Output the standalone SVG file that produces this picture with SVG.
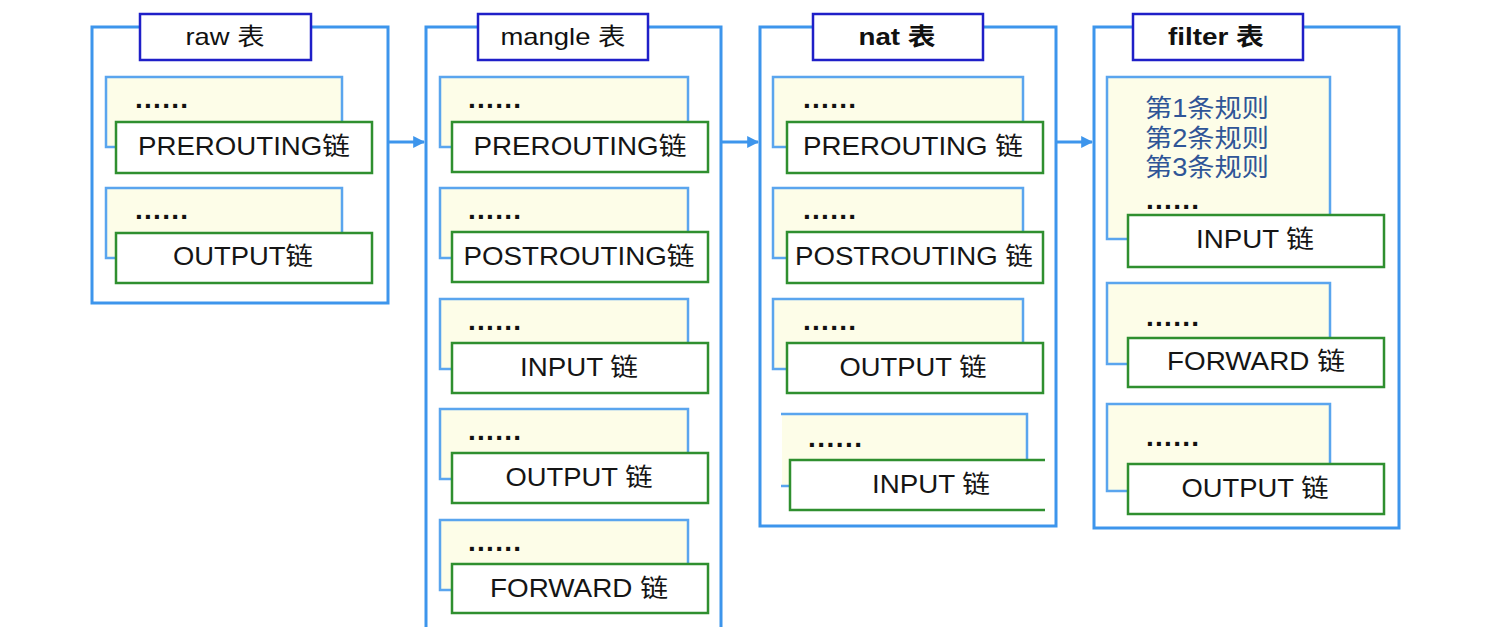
<svg xmlns="http://www.w3.org/2000/svg" width="1506" height="637" viewBox="0 0 1506 637">
<defs>
<marker id="arr" viewBox="0 0 10 10" refX="9" refY="5" markerWidth="4" markerHeight="4" orient="auto" markerUnits="strokeWidth">
<path d="M0,0 L10,5 L0,10 z" fill="#3d95ec"/>
</marker>
<style>
.outer{fill:none;stroke:#3d95ec;stroke-width:3}
.title{fill:#fff;stroke:#1f1fc8;stroke-width:2.5}
.rule{fill:#fdfde8;stroke:#5aa5ee;stroke-width:2.5}
.rulefill{fill:#fdfde8;stroke:none}
.ruleedge{fill:none;stroke:#5aa5ee;stroke-width:2.5}
.chain{fill:#fff;stroke:#2f8f2f;stroke-width:2.5}
.chainedge{fill:none;stroke:#2f8f2f;stroke-width:2.5}
.ttl{font-family:"Liberation Sans","Noto Sans CJK SC",sans-serif;font-size:24px;fill:#111;text-anchor:middle}
.b{font-weight:bold}
.lbl{font-family:"Liberation Sans","Noto Sans CJK SC",sans-serif;font-size:25px;fill:#151515;text-anchor:middle}
.dots{font-family:"Liberation Sans",sans-serif;font-size:28px;font-weight:bold;fill:#111}
.rt{font-family:"Liberation Sans","Noto Sans CJK SC",sans-serif;font-size:25px;fill:#2f5597}
.conn{fill:none;stroke:#3d95ec;stroke-width:3;marker-end:url(#arr)}
</style>
</defs>
<rect width="1506" height="637" fill="#fff"/>

<g id="raw">
<rect class="outer" x="92" y="27" width="296" height="276"/>
<rect class="title" x="140" y="14" width="171" height="46"/>
<text class="ttl" x="225" y="45" textLength="79" lengthAdjust="spacingAndGlyphs">raw 表</text>
<g id="raw-prerouting">
<rect class="rule" x="106" y="77" width="236" height="70"/>
<text class="dots" x="135" y="108" textLength="53" lengthAdjust="spacing">......</text>
<rect class="chain" x="116" y="122" width="256" height="51"/>
<text class="lbl" x="244" y="155" textLength="212" lengthAdjust="spacingAndGlyphs">PREROUTING链</text>
</g>
<g id="raw-output">
<rect class="rule" x="106" y="188" width="236" height="70"/>
<text class="dots" x="135" y="219" textLength="53" lengthAdjust="spacing">......</text>
<rect class="chain" x="116" y="233" width="256" height="50"/>
<text class="lbl" x="243" y="265" textLength="140" lengthAdjust="spacingAndGlyphs">OUTPUT链</text>
</g>
</g>

<g id="mangle">
<path class="outer" d="M426,627 V27 H721 V627"/>
<rect class="title" x="478" y="14" width="170" height="46"/>
<text class="ttl" x="563" y="45" textLength="125" lengthAdjust="spacingAndGlyphs">mangle 表</text>
<g id="mangle-prerouting">
<rect class="rule" x="440" y="77" width="248" height="70"/>
<text class="dots" x="468" y="108" textLength="53" lengthAdjust="spacing">......</text>
<rect class="chain" x="452" y="122" width="256" height="50"/>
<text class="lbl" x="580" y="155" textLength="213" lengthAdjust="spacingAndGlyphs">PREROUTING链</text>
</g>
<g id="mangle-postrouting">
<rect class="rule" x="440" y="188" width="248" height="70"/>
<text class="dots" x="468" y="219" textLength="53" lengthAdjust="spacing">......</text>
<rect class="chain" x="452" y="232" width="256" height="50"/>
<text class="lbl" x="579" y="265" textLength="231" lengthAdjust="spacingAndGlyphs">POSTROUTING链</text>
</g>
<g id="mangle-input">
<rect class="rule" x="440" y="299" width="248" height="70"/>
<text class="dots" x="468" y="330" textLength="53" lengthAdjust="spacing">......</text>
<rect class="chain" x="452" y="343" width="256" height="50"/>
<text class="lbl" x="579" y="376" textLength="118" lengthAdjust="spacingAndGlyphs">INPUT 链</text>
</g>
<g id="mangle-output">
<rect class="rule" x="440" y="409" width="248" height="70"/>
<text class="dots" x="468" y="440" textLength="53" lengthAdjust="spacing">......</text>
<rect class="chain" x="452" y="453" width="256" height="50"/>
<text class="lbl" x="579" y="486" textLength="147" lengthAdjust="spacingAndGlyphs">OUTPUT 链</text>
</g>
<g id="mangle-forward">
<rect class="rule" x="440" y="520" width="248" height="70"/>
<text class="dots" x="468" y="551" textLength="53" lengthAdjust="spacing">......</text>
<rect class="chain" x="452" y="564" width="256" height="49"/>
<text class="lbl" x="579" y="597" textLength="178" lengthAdjust="spacingAndGlyphs">FORWARD 链</text>
</g>
</g>

<g id="nat">
<rect class="outer" x="760" y="27" width="296" height="499"/>
<rect class="title" x="813" y="14" width="170" height="46"/>
<text class="ttl b" x="897" y="45" textLength="77" lengthAdjust="spacingAndGlyphs">nat 表</text>
<g id="nat-prerouting">
<rect class="rule" x="773" y="77" width="250" height="70"/>
<text class="dots" x="803" y="108" textLength="53" lengthAdjust="spacing">......</text>
<rect class="chain" x="787" y="122" width="256" height="51"/>
<text class="lbl" x="913" y="155" textLength="220" lengthAdjust="spacingAndGlyphs">PREROUTING 链</text>
</g>
<g id="nat-postrouting">
<rect class="rule" x="773" y="188" width="250" height="70"/>
<text class="dots" x="803" y="219" textLength="53" lengthAdjust="spacing">......</text>
<rect class="chain" x="787" y="232" width="256" height="51"/>
<text class="lbl" x="914" y="265" textLength="238" lengthAdjust="spacingAndGlyphs">POSTROUTING 链</text>
</g>
<g id="nat-output">
<rect class="rule" x="773" y="299" width="250" height="70"/>
<text class="dots" x="803" y="330" textLength="53" lengthAdjust="spacing">......</text>
<rect class="chain" x="787" y="343" width="256" height="50"/>
<text class="lbl" x="913" y="376" textLength="147" lengthAdjust="spacingAndGlyphs">OUTPUT 链</text>
</g>
<g id="nat-input">
<rect class="rulefill" x="782" y="414" width="245" height="72"/>
<path class="ruleedge" d="M781,414 H1027 V460 M781,486 H790"/>
<text class="dots" x="808" y="447" textLength="54" lengthAdjust="spacing">......</text>
<rect x="790" y="460" width="255" height="50" fill="#fff"/>
<path class="chainedge" d="M1045,460 H790 V510 H1045"/>
<text class="lbl" x="931" y="493" textLength="118" lengthAdjust="spacingAndGlyphs">INPUT 链</text>
</g>
</g>

<g id="filter">
<rect class="outer" x="1094" y="27" width="305" height="501"/>
<rect class="title" x="1133" y="14" width="170" height="46"/>
<text class="ttl b" x="1216" y="45" textLength="96" lengthAdjust="spacingAndGlyphs">filter 表</text>
<g id="filter-input">
<rect class="rule" x="1107" y="77" width="223" height="162"/>
<text class="rt" x="1145" y="117" textLength="124" lengthAdjust="spacingAndGlyphs">第1条规则</text>
<text class="rt" x="1145" y="147" textLength="124" lengthAdjust="spacingAndGlyphs">第2条规则</text>
<text class="rt" x="1145" y="176" textLength="124" lengthAdjust="spacingAndGlyphs">第3条规则</text>
<text class="dots" x="1146" y="209" textLength="53" lengthAdjust="spacing">......</text>
<rect class="chain" x="1128" y="215" width="256" height="52"/>
<text class="lbl" x="1255" y="248" textLength="118" lengthAdjust="spacingAndGlyphs">INPUT 链</text>
</g>
<g id="filter-forward">
<rect class="rule" x="1107" y="283" width="223" height="81"/>
<text class="dots" x="1146" y="326" textLength="53" lengthAdjust="spacing">......</text>
<rect class="chain" x="1128" y="338" width="256" height="49"/>
<text class="lbl" x="1256" y="370" textLength="178" lengthAdjust="spacingAndGlyphs">FORWARD 链</text>
</g>
<g id="filter-output">
<rect class="rule" x="1107" y="404" width="223" height="87"/>
<text class="dots" x="1146" y="446" textLength="53" lengthAdjust="spacing">......</text>
<rect class="chain" x="1128" y="464" width="256" height="50"/>
<text class="lbl" x="1255" y="497" textLength="147" lengthAdjust="spacingAndGlyphs">OUTPUT 链</text>
</g>
</g>

<g id="connectors">
<line class="conn" x1="389" y1="142" x2="424" y2="142"/>
<line class="conn" x1="722" y1="142" x2="758" y2="142"/>
<line class="conn" x1="1057" y1="142" x2="1092" y2="142"/>
</g>
</svg>
